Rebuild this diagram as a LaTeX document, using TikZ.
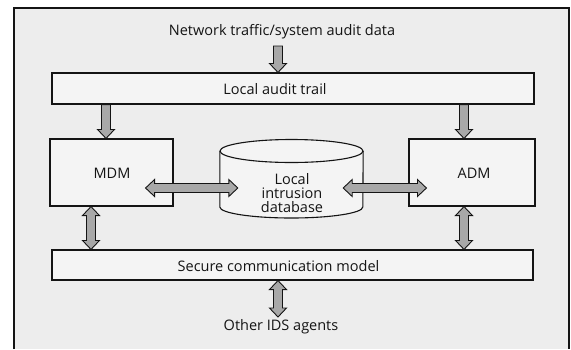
\documentclass[tikz,border=0pt]{standalone}
\usepackage{fontspec}
\setmainfont{Open Sans}
\usetikzlibrary{calc}

\definecolor{panel}{HTML}{EDEDED}
\definecolor{boxfill}{HTML}{F4F4F4}
\definecolor{arrowfill}{HTML}{A8A8A8}
\definecolor{ink}{HTML}{141414}

\tikzset{
  block/.style={draw=ink, line width=1.1pt, fill=boxfill, inner sep=0pt},
  lbl/.style={font=\fontsize{14.5}{16}\selectfont, text=ink, inner sep=0pt},
  fat/.style={draw=ink, line width=0.9pt, fill=arrowfill, line join=miter},
}

% block arrow with one head, from #1 to #2
\newcommand\fatsingle[2]{%
  \path[fat] let \p1=(#1), \p2=(#2),
    \n1={atan2(\y2-\y1,\x2-\x1)}, \n2={veclen(\x2-\x1,\y2-\y1)} in
    [shift={(\p1)}, rotate=\n1]
    (0,-4.5) -- (\n2-9,-4.5) -- (\n2-9,-8.5) -- (\n2,0) -- (\n2-9,8.5)
    -- (\n2-9,4.5) -- (0,4.5) -- cycle;}
% block arrow with heads at both ends
\newcommand\fatdouble[2]{%
  \path[fat] let \p1=(#1), \p2=(#2),
    \n1={atan2(\y2-\y1,\x2-\x1)}, \n2={veclen(\x2-\x1,\y2-\y1)} in
    [shift={(\p1)}, rotate=\n1]
    (9,-4.5) -- (\n2-9,-4.5) -- (\n2-9,-8.5) -- (\n2,0) -- (\n2-9,8.5)
    -- (\n2-9,4.5) -- (9,4.5) -- (9,8.5) -- (0,0) -- (9,-8.5) -- cycle;}

\begin{document}
\begin{tikzpicture}[x=1pt, y=-1pt]
  \useasboundingbox (0,0) rectangle (571,349);
  \fill[white] (0,0) rectangle (571,349);

  % outer panel, open at the bottom
  \fill[panel] (14,8) rectangle (569,349);
  \draw[ink, line width=1.2pt] (14,349) -- (14,8) -- (569,8) -- (569,349);

  % boxes
  \node[block, minimum width=482pt, minimum height=31pt] (trail) at (293,88.5) {};
  \node[block, minimum width=123pt, minimum height=67pt] (mdm) at (111.5,172.5) {};
  \node[block, minimum width=126pt, minimum height=67pt] (adm) at (472,172.5) {};
  \node[block, minimum width=481pt, minimum height=30pt] (secure) at (292.5,265) {};

  % local intrusion database (cylinder)
  \node[minimum width=143pt, minimum height=79pt, inner sep=0pt] (db) at (291.5,178.5) {};
  \path[draw=ink, line width=1.1pt, fill=boxfill]
    ($(db.west)+(0,-27.5)$) -- ($(db.west)+(0,28.5)$)
    arc[start angle=180, end angle=360, x radius=71.5pt, y radius=11pt]
    -- ($(db.east)+(0,-27.5)$);
  \draw[ink, line width=1.1pt, fill=boxfill] ($(db.center)+(0,-27.5)$)
    ellipse[x radius=71.5pt, y radius=11.5pt];

  % texts
  \node[lbl] (src) at (282,32) {Network traffic/system audit data};
  \node[lbl] (trailtext) at (275,89) {Local audit trail};
  \node[lbl] (mdmtext) at (112,173) {MDM};
  \node[lbl] (admtext) at (474,173) {ADM};
  \node[lbl, align=center, font=\fontsize{14.5}{14}\selectfont] (dbtext) at (292,193) {Local\\intrusion\\database};
  \node[lbl] (securetext) at (278.5,266) {Secure communication model};
  \node[lbl] (other) at (281,327) {Other IDS agents};

  % anchor columns for the vertical arrows
  \coordinate (feed) at (278,46);
  \coordinate (lcol) at (106,0);
  \coordinate (rcol) at (464,0);
  \coordinate (llcol) at (91,0);
  \coordinate (bcol) at (278,0);
  \coordinate (agents) at (278,317);

  % arrows
  \fatsingle{feed}{feed |- trail.north}
  \fatsingle{lcol |- trail.south}{lcol |- mdm.north}
  \fatsingle{rcol |- trail.south}{rcol |- adm.north}
  \fatdouble{llcol |- mdm.south}{llcol |- secure.north}
  \fatdouble{rcol |- adm.south}{rcol |- secure.north}
  \fatdouble{bcol |- secure.south}{agents}
  \fatdouble{$(mdm.east)+(-28,15.5)$}{$(db.west)+(18,9.5)$}
  \fatdouble{$(db.east)+(-20,9.5)$}{$(adm.west)+(18,15.5)$}
\end{tikzpicture}
\end{document}
